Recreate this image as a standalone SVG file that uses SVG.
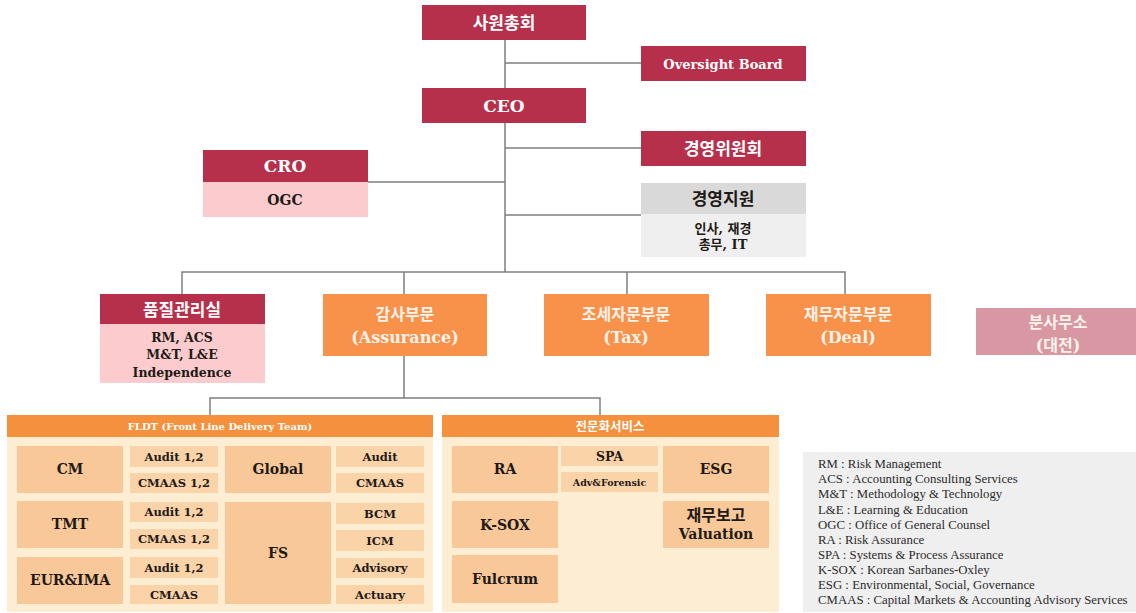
<svg xmlns="http://www.w3.org/2000/svg" width="1136" height="613" viewBox="0 0 1136 613">
<style>
.red{fill:#B7304B}
.pink{fill:#FBCBCE}
.org{fill:#F8924A}
.g1{fill:#D9D9D9}
.g2{fill:#EFEFEF}
.branch{fill:#D898A3}
.hdr{fill:#F5903C}
.cont{fill:#FDEDD3}
.cell{fill:#F9C899}
.sub{fill:#FBD3A9}
.ln{stroke:#7F7F7F;stroke-width:1.5;fill:none}
text{font-family:"DejaVu Serif","Noto Sans CJK KR",serif;font-weight:bold;text-anchor:middle;dominant-baseline:central}
.w{fill:#FFFFFF}
.wo{fill:#FFF3EA}
.k{fill:#1E1A16}
.t17{font-size:17px}
.t16{font-size:16px}
.t14{font-size:14px}
.t13{font-size:13px}
.t12{font-size:12.5px}
.t11{font-size:11.5px}
.t10{font-size:10px}
.lg{font-family:"Liberation Serif","Noto Sans CJK KR",serif;font-weight:normal;text-anchor:start;font-size:12.8px;fill:#2B2B2B}
</style>
<rect width="1136" height="613" fill="#FFFFFF"/>

<g id="connectors">
<path class="ln" d="M505 40V272M505 63H641M505 148H641M368 182H505M505 215H641"/>
<path class="ln" d="M182 294V272H845V294M404 272V294M627 272V294"/>
<path class="ln" d="M404 356V398M210 415V398H600V415"/>
</g>

<g id="n-general">
<rect class="red" x="422" y="5" width="164" height="35"/>
<text class="w t17" x="504" y="23">사원총회</text>
</g>
<g id="n-oversight">
<rect class="red" x="641" y="46" width="165" height="35"/>
<text class="w t13" x="723" y="64">Oversight Board</text>
</g>
<g id="n-ceo">
<rect class="red" x="422" y="88" width="164" height="35"/>
<text class="w t17" x="504" y="106">CEO</text>
</g>
<g id="n-mgmt">
<rect class="red" x="641" y="131" width="165" height="35"/>
<text class="w t17" x="723" y="149">경영위원회</text>
</g>
<g id="n-cro">
<rect class="red" x="203" y="150" width="165" height="32"/>
<rect class="pink" x="203" y="182" width="165" height="35"/>
<text class="w t17" x="285" y="166">CRO</text>
<text class="k t14" x="285" y="200">OGC</text>
</g>
<g id="n-support">
<rect class="g1" x="641" y="183" width="165" height="31"/>
<rect class="g2" x="641" y="214" width="165" height="43"/>
<text class="k t17" x="723" y="199">경영지원</text>
<text class="k t13" x="723" y="228">인사, 재경</text>
<text class="k t13" x="723" y="244">총무, IT</text>
</g>

<g id="n-quality">
<rect class="red" x="100" y="294" width="165" height="30"/>
<rect class="pink" x="100" y="324" width="165" height="59"/>
<text class="w t17" x="182" y="310">품질관리실</text>
<text class="k t12" x="182" y="337">RM, ACS</text>
<text class="k t12" x="182" y="354">M&amp;T, L&amp;E</text>
<text class="k t12" x="182" y="372">Independence</text>
</g>
<g id="n-assurance">
<rect class="org" x="323" y="294" width="164" height="62"/>
<text class="wo t16" x="405" y="314">감사부문</text>
<text class="wo t16" x="405" y="337">(Assurance)</text>
</g>
<g id="n-tax">
<rect class="org" x="544" y="294" width="165" height="62"/>
<text class="wo t16" x="626" y="314">조세자문부문</text>
<text class="wo t16" x="626" y="337">(Tax)</text>
</g>
<g id="n-deal">
<rect class="org" x="766" y="294" width="165" height="62"/>
<text class="wo t16" x="848" y="314">재무자문부문</text>
<text class="wo t16" x="848" y="337">(Deal)</text>
</g>
<g id="n-branch">
<rect class="branch" x="976" y="308" width="160" height="47"/>
<text class="wo t16" x="1058" y="322">분사무소</text>
<text class="wo t16" x="1058" y="345">(대전)</text>
</g>

<g id="n-fldt">
<rect class="hdr" x="7" y="415" width="426" height="22"/>
<rect class="cont" x="7" y="437" width="426" height="175"/>
<text class="w t10" x="220" y="426">FLDT (Front Line Delivery Team)</text>
<rect class="cell" x="17" y="446" width="106" height="47"/>
<rect class="cell" x="17" y="501" width="106" height="47"/>
<rect class="cell" x="17" y="557" width="106" height="47"/>
<rect class="sub" x="130" y="446" width="88" height="21"/>
<rect class="sub" x="130" y="473" width="88" height="20"/>
<rect class="sub" x="130" y="502" width="88" height="20"/>
<rect class="sub" x="130" y="529" width="88" height="20"/>
<rect class="sub" x="130" y="557" width="88" height="21"/>
<rect class="sub" x="130" y="585" width="88" height="19"/>
<rect class="cell" x="225" y="446" width="106" height="47"/>
<rect class="cell" x="225" y="502" width="106" height="102"/>
<rect class="sub" x="336" y="446" width="88" height="21"/>
<rect class="sub" x="336" y="473" width="88" height="20"/>
<rect class="sub" x="336" y="503" width="88" height="21"/>
<rect class="sub" x="336" y="530" width="88" height="21"/>
<rect class="sub" x="336" y="558" width="88" height="20"/>
<rect class="sub" x="336" y="585" width="88" height="19"/>
<text class="k t14" x="70" y="469">CM</text>
<text class="k t14" x="70" y="524">TMT</text>
<text class="k t14" x="70" y="580">EUR&amp;IMA</text>
<text class="k t11" x="174" y="456.5">Audit 1,2</text>
<text class="k t11" x="174" y="483">CMAAS 1,2</text>
<text class="k t11" x="174" y="512">Audit 1,2</text>
<text class="k t11" x="174" y="539">CMAAS 1,2</text>
<text class="k t11" x="174" y="567.5">Audit 1,2</text>
<text class="k t11" x="174" y="594.5">CMAAS</text>
<text class="k t14" x="278" y="469">Global</text>
<text class="k t14" x="278" y="553">FS</text>
<text class="k t11" x="380" y="456.5">Audit</text>
<text class="k t11" x="380" y="483">CMAAS</text>
<text class="k t11" x="380" y="513.5">BCM</text>
<text class="k t11" x="380" y="540.5">ICM</text>
<text class="k t11" x="380" y="568">Advisory</text>
<text class="k t11" x="380" y="594.5">Actuary</text>
</g>

<g id="n-special">
<rect class="hdr" x="442" y="415" width="337" height="22"/>
<rect class="cont" x="442" y="437" width="337" height="175"/>
<text class="w t12" x="610" y="426">전문화서비스</text>
<rect class="cell" x="452" y="446" width="106" height="47"/>
<rect class="cell" x="452" y="501" width="106" height="47"/>
<rect class="cell" x="452" y="555" width="106" height="48"/>
<rect class="sub" x="561" y="446" width="97" height="20"/>
<rect class="sub" x="561" y="472" width="97" height="20"/>
<rect class="cell" x="663" y="446" width="106" height="47"/>
<rect class="cell" x="663" y="501" width="106" height="47"/>
<text class="k t14" x="505" y="469">RA</text>
<text class="k t14" x="505" y="524.5">K-SOX</text>
<text class="k t14" x="505" y="579">Fulcrum</text>
<text class="k t12" x="609.5" y="456">SPA</text>
<text class="k" style="font-size:9.5px" x="609.5" y="482">Adv&amp;Forensic</text>
<text class="k t14" x="716" y="469">ESG</text>
<text class="k t16" x="716" y="515">재무보고</text>
<text class="k t14" x="716" y="534">Valuation</text>
</g>

<g id="legend">
<rect x="803" y="452" width="333" height="160" fill="#EFEFEF"/>
<text class="lg" x="818" y="464">RM : Risk Management</text>
<text class="lg" x="818" y="479">ACS : Accounting Consulting Services</text>
<text class="lg" x="818" y="494">M&amp;T : Methodology &amp; Technology</text>
<text class="lg" x="818" y="509.5">L&amp;E : Learning &amp; Education</text>
<text class="lg" x="818" y="524.5">OGC : Office of General Counsel</text>
<text class="lg" x="818" y="539.5">RA : Risk Assurance</text>
<text class="lg" x="818" y="554.5">SPA : Systems &amp; Process Assurance</text>
<text class="lg" x="818" y="569.5">K-SOX : Korean Sarbanes-Oxley</text>
<text class="lg" x="818" y="585">ESG : Environmental, Social, Governance</text>
<text class="lg" x="818" y="600">CMAAS : Capital Markets &amp; Accounting Advisory Services</text>
</g>
</svg>
